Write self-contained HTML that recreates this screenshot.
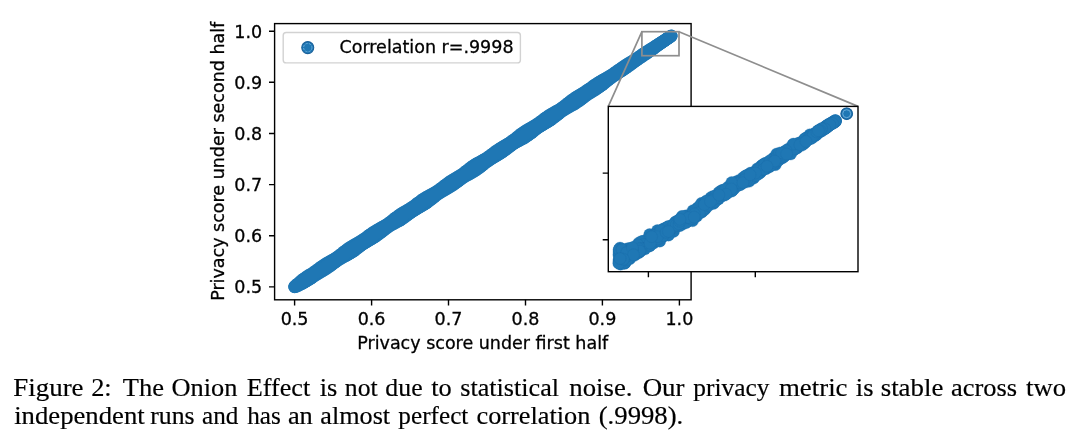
<!DOCTYPE html>
<html><head><meta charset="utf-8"><title>Figure 2</title>
<style>
html,body{margin:0;padding:0;background:#fff;}
body{width:1080px;height:438px;position:relative;overflow:hidden;}
</style></head><body>
<svg width="1080" height="438" viewBox="0 0 1080 438" style="position:absolute;left:0;top:0">
<g fill="#1f77b4"><circle cx="294.6" cy="286.9" r="6.3"/><circle cx="294.9" cy="286.2" r="6.3"/><circle cx="295.7" cy="286.2" r="6.3"/><circle cx="296.5" cy="286.3" r="6.3"/><circle cx="296.4" cy="284.9" r="6.3"/><circle cx="297.3" cy="285.1" r="6.3"/><circle cx="298.3" cy="285.5" r="6.3"/><circle cx="297.9" cy="283.7" r="6.3"/><circle cx="298.9" cy="284.1" r="6.3"/><circle cx="300.0" cy="284.6" r="6.3"/><circle cx="299.3" cy="282.4" r="6.3"/><circle cx="300.5" cy="283.0" r="6.3"/><circle cx="301.8" cy="283.7" r="6.3"/><circle cx="300.8" cy="281.1" r="6.3"/><circle cx="302.1" cy="281.9" r="6.3"/><circle cx="303.5" cy="282.9" r="6.3"/><circle cx="302.3" cy="279.9" r="6.3"/><circle cx="303.7" cy="280.9" r="6.3"/><circle cx="305.2" cy="281.9" r="6.3"/><circle cx="303.9" cy="278.7" r="6.3"/><circle cx="305.4" cy="279.8" r="6.3"/><circle cx="306.9" cy="280.9" r="6.3"/><circle cx="305.4" cy="277.6" r="6.3"/><circle cx="307.0" cy="278.8" r="6.3"/><circle cx="308.5" cy="279.9" r="6.3"/><circle cx="307.0" cy="276.5" r="6.3"/><circle cx="308.6" cy="277.7" r="6.3"/><circle cx="310.2" cy="278.9" r="6.3"/><circle cx="308.6" cy="275.4" r="6.3"/><circle cx="310.2" cy="276.6" r="6.3"/><circle cx="311.7" cy="277.8" r="6.3"/><circle cx="310.3" cy="274.5" r="6.3"/><circle cx="311.8" cy="275.6" r="6.3"/><circle cx="313.3" cy="276.6" r="6.3"/><circle cx="312.0" cy="273.5" r="6.3"/><circle cx="313.4" cy="274.5" r="6.3"/><circle cx="314.9" cy="275.5" r="6.3"/><circle cx="313.6" cy="272.4" r="6.3"/><circle cx="315.0" cy="273.4" r="6.3"/><circle cx="316.5" cy="274.5" r="6.3"/><circle cx="315.2" cy="271.3" r="6.3"/><circle cx="316.7" cy="272.4" r="6.3"/><circle cx="318.2" cy="273.5" r="6.3"/><circle cx="316.8" cy="270.2" r="6.3"/><circle cx="318.3" cy="271.3" r="6.3"/><circle cx="319.8" cy="272.5" r="6.3"/><circle cx="318.3" cy="269.0" r="6.3"/><circle cx="319.9" cy="270.3" r="6.3"/><circle cx="321.5" cy="271.5" r="6.3"/><circle cx="319.9" cy="267.9" r="6.3"/><circle cx="321.5" cy="269.2" r="6.3"/><circle cx="323.2" cy="270.6" r="6.3"/><circle cx="321.4" cy="266.7" r="6.3"/><circle cx="323.1" cy="268.1" r="6.3"/><circle cx="324.8" cy="269.6" r="6.3"/><circle cx="323.0" cy="265.6" r="6.3"/><circle cx="324.7" cy="267.1" r="6.3"/><circle cx="326.5" cy="268.5" r="6.3"/><circle cx="324.6" cy="264.6" r="6.3"/><circle cx="326.4" cy="266.0" r="6.3"/><circle cx="328.1" cy="267.4" r="6.3"/><circle cx="326.2" cy="263.5" r="6.3"/><circle cx="328.0" cy="264.9" r="6.3"/><circle cx="329.7" cy="266.3" r="6.3"/><circle cx="327.9" cy="262.5" r="6.3"/><circle cx="329.6" cy="263.9" r="6.3"/><circle cx="331.2" cy="265.2" r="6.3"/><circle cx="329.6" cy="261.6" r="6.3"/><circle cx="331.2" cy="262.8" r="6.3"/><circle cx="332.7" cy="264.0" r="6.3"/><circle cx="331.3" cy="260.6" r="6.3"/><circle cx="332.8" cy="261.8" r="6.3"/><circle cx="334.3" cy="262.8" r="6.3"/><circle cx="333.0" cy="259.7" r="6.3"/><circle cx="334.4" cy="260.7" r="6.3"/><circle cx="335.8" cy="261.7" r="6.3"/><circle cx="334.6" cy="258.7" r="6.3"/><circle cx="336.0" cy="259.6" r="6.3"/><circle cx="337.4" cy="260.6" r="6.3"/><circle cx="336.3" cy="257.6" r="6.3"/><circle cx="337.7" cy="258.6" r="6.3"/><circle cx="339.0" cy="259.5" r="6.3"/><circle cx="337.9" cy="256.6" r="6.3"/><circle cx="339.3" cy="257.5" r="6.3"/><circle cx="340.7" cy="258.5" r="6.3"/><circle cx="339.4" cy="255.4" r="6.3"/><circle cx="340.9" cy="256.4" r="6.3"/><circle cx="342.4" cy="257.5" r="6.3"/><circle cx="341.0" cy="254.3" r="6.3"/><circle cx="342.5" cy="255.4" r="6.3"/><circle cx="344.1" cy="256.6" r="6.3"/><circle cx="342.5" cy="253.1" r="6.3"/><circle cx="344.1" cy="254.3" r="6.3"/><circle cx="345.8" cy="255.7" r="6.3"/><circle cx="344.0" cy="251.8" r="6.3"/><circle cx="345.7" cy="253.2" r="6.3"/><circle cx="347.5" cy="254.7" r="6.3"/><circle cx="345.5" cy="250.6" r="6.3"/><circle cx="347.3" cy="252.2" r="6.3"/><circle cx="349.2" cy="253.8" r="6.3"/><circle cx="347.1" cy="249.5" r="6.3"/><circle cx="349.0" cy="251.1" r="6.3"/><circle cx="350.9" cy="252.8" r="6.3"/><circle cx="348.6" cy="248.3" r="6.3"/><circle cx="350.6" cy="250.1" r="6.3"/><circle cx="352.5" cy="251.8" r="6.3"/><circle cx="350.3" cy="247.3" r="6.3"/><circle cx="352.2" cy="249.0" r="6.3"/><circle cx="354.1" cy="250.7" r="6.3"/><circle cx="351.9" cy="246.2" r="6.3"/><circle cx="353.8" cy="247.9" r="6.3"/><circle cx="355.7" cy="249.6" r="6.3"/><circle cx="353.6" cy="245.3" r="6.3"/><circle cx="355.4" cy="246.9" r="6.3"/><circle cx="357.2" cy="248.4" r="6.3"/><circle cx="355.2" cy="244.3" r="6.3"/><circle cx="357.0" cy="245.8" r="6.3"/><circle cx="358.7" cy="247.2" r="6.3"/><circle cx="356.9" cy="243.4" r="6.3"/><circle cx="358.6" cy="244.7" r="6.3"/><circle cx="360.3" cy="246.0" r="6.3"/><circle cx="358.6" cy="242.4" r="6.3"/><circle cx="360.3" cy="243.7" r="6.3"/><circle cx="361.8" cy="244.9" r="6.3"/><circle cx="360.3" cy="241.4" r="6.3"/><circle cx="361.9" cy="242.6" r="6.3"/><circle cx="363.4" cy="243.8" r="6.3"/><circle cx="361.9" cy="240.4" r="6.3"/><circle cx="363.5" cy="241.5" r="6.3"/><circle cx="365.0" cy="242.7" r="6.3"/><circle cx="363.6" cy="239.3" r="6.3"/><circle cx="365.1" cy="240.5" r="6.3"/><circle cx="366.7" cy="241.7" r="6.3"/><circle cx="365.1" cy="238.2" r="6.3"/><circle cx="366.7" cy="239.4" r="6.3"/><circle cx="368.3" cy="240.7" r="6.3"/><circle cx="366.7" cy="237.1" r="6.3"/><circle cx="368.3" cy="238.4" r="6.3"/><circle cx="370.0" cy="239.7" r="6.3"/><circle cx="368.3" cy="235.9" r="6.3"/><circle cx="369.9" cy="237.3" r="6.3"/><circle cx="371.7" cy="238.7" r="6.3"/><circle cx="369.8" cy="234.8" r="6.3"/><circle cx="371.6" cy="236.2" r="6.3"/><circle cx="373.3" cy="237.7" r="6.3"/><circle cx="371.4" cy="233.6" r="6.3"/><circle cx="373.2" cy="235.2" r="6.3"/><circle cx="375.0" cy="236.7" r="6.3"/><circle cx="373.0" cy="232.5" r="6.3"/><circle cx="374.8" cy="234.1" r="6.3"/><circle cx="376.6" cy="235.6" r="6.3"/><circle cx="374.6" cy="231.5" r="6.3"/><circle cx="376.4" cy="233.0" r="6.3"/><circle cx="378.2" cy="234.5" r="6.3"/><circle cx="376.3" cy="230.5" r="6.3"/><circle cx="378.0" cy="232.0" r="6.3"/><circle cx="379.7" cy="233.4" r="6.3"/><circle cx="377.9" cy="229.5" r="6.3"/><circle cx="379.6" cy="230.9" r="6.3"/><circle cx="381.3" cy="232.2" r="6.3"/><circle cx="379.6" cy="228.6" r="6.3"/><circle cx="381.2" cy="229.8" r="6.3"/><circle cx="382.8" cy="231.0" r="6.3"/><circle cx="381.3" cy="227.6" r="6.3"/><circle cx="382.9" cy="228.8" r="6.3"/><circle cx="384.3" cy="229.8" r="6.3"/><circle cx="383.0" cy="226.7" r="6.3"/><circle cx="384.5" cy="227.7" r="6.3"/><circle cx="385.9" cy="228.6" r="6.3"/><circle cx="384.7" cy="225.7" r="6.3"/><circle cx="386.1" cy="226.6" r="6.3"/><circle cx="387.4" cy="227.5" r="6.3"/><circle cx="386.4" cy="224.7" r="6.3"/><circle cx="387.7" cy="225.6" r="6.3"/><circle cx="389.0" cy="226.4" r="6.3"/><circle cx="388.0" cy="223.6" r="6.3"/><circle cx="389.3" cy="224.5" r="6.3"/><circle cx="390.7" cy="225.4" r="6.3"/><circle cx="389.5" cy="222.5" r="6.3"/><circle cx="390.9" cy="223.4" r="6.3"/><circle cx="392.4" cy="224.4" r="6.3"/><circle cx="391.1" cy="221.4" r="6.3"/><circle cx="392.5" cy="222.4" r="6.3"/><circle cx="394.0" cy="223.5" r="6.3"/><circle cx="392.6" cy="220.2" r="6.3"/><circle cx="394.2" cy="221.3" r="6.3"/><circle cx="395.8" cy="222.5" r="6.3"/><circle cx="394.1" cy="218.9" r="6.3"/><circle cx="395.8" cy="220.2" r="6.3"/><circle cx="397.5" cy="221.6" r="6.3"/><circle cx="395.7" cy="217.7" r="6.3"/><circle cx="397.4" cy="219.2" r="6.3"/><circle cx="399.2" cy="220.7" r="6.3"/><circle cx="397.2" cy="216.6" r="6.3"/><circle cx="399.0" cy="218.1" r="6.3"/><circle cx="400.8" cy="219.7" r="6.3"/><circle cx="398.8" cy="215.4" r="6.3"/><circle cx="400.6" cy="217.0" r="6.3"/><circle cx="402.5" cy="218.6" r="6.3"/><circle cx="400.4" cy="214.4" r="6.3"/><circle cx="402.2" cy="216.0" r="6.3"/><circle cx="404.1" cy="217.6" r="6.3"/><circle cx="402.0" cy="213.3" r="6.3"/><circle cx="403.8" cy="214.9" r="6.3"/><circle cx="405.6" cy="216.4" r="6.3"/><circle cx="403.7" cy="212.3" r="6.3"/><circle cx="405.5" cy="213.8" r="6.3"/><circle cx="407.2" cy="215.3" r="6.3"/><circle cx="405.4" cy="211.3" r="6.3"/><circle cx="407.1" cy="212.8" r="6.3"/><circle cx="408.7" cy="214.1" r="6.3"/><circle cx="407.0" cy="210.4" r="6.3"/><circle cx="408.7" cy="211.7" r="6.3"/><circle cx="410.3" cy="213.0" r="6.3"/><circle cx="408.7" cy="209.4" r="6.3"/><circle cx="410.3" cy="210.6" r="6.3"/><circle cx="411.9" cy="211.8" r="6.3"/><circle cx="410.4" cy="208.4" r="6.3"/><circle cx="411.9" cy="209.6" r="6.3"/><circle cx="413.5" cy="210.7" r="6.3"/><circle cx="412.0" cy="207.3" r="6.3"/><circle cx="413.5" cy="208.5" r="6.3"/><circle cx="415.1" cy="209.7" r="6.3"/><circle cx="413.6" cy="206.2" r="6.3"/><circle cx="415.1" cy="207.4" r="6.3"/><circle cx="416.7" cy="208.7" r="6.3"/><circle cx="415.1" cy="205.1" r="6.3"/><circle cx="416.8" cy="206.4" r="6.3"/><circle cx="418.4" cy="207.7" r="6.3"/><circle cx="416.7" cy="203.9" r="6.3"/><circle cx="418.4" cy="205.3" r="6.3"/><circle cx="420.1" cy="206.7" r="6.3"/><circle cx="418.2" cy="202.7" r="6.3"/><circle cx="420.0" cy="204.2" r="6.3"/><circle cx="421.8" cy="205.8" r="6.3"/><circle cx="419.8" cy="201.6" r="6.3"/><circle cx="421.6" cy="203.1" r="6.3"/><circle cx="423.5" cy="204.8" r="6.3"/><circle cx="421.3" cy="200.4" r="6.3"/><circle cx="423.2" cy="202.1" r="6.3"/><circle cx="425.1" cy="203.8" r="6.3"/><circle cx="422.9" cy="199.3" r="6.3"/><circle cx="424.8" cy="201.0" r="6.3"/><circle cx="426.7" cy="202.7" r="6.3"/><circle cx="424.6" cy="198.3" r="6.3"/><circle cx="426.4" cy="199.9" r="6.3"/><circle cx="428.3" cy="201.6" r="6.3"/><circle cx="426.2" cy="197.3" r="6.3"/><circle cx="428.1" cy="198.9" r="6.3"/><circle cx="429.9" cy="200.4" r="6.3"/><circle cx="427.9" cy="196.3" r="6.3"/><circle cx="429.7" cy="197.8" r="6.3"/><circle cx="431.4" cy="199.2" r="6.3"/><circle cx="429.6" cy="195.4" r="6.3"/><circle cx="431.3" cy="196.7" r="6.3"/><circle cx="432.9" cy="198.0" r="6.3"/><circle cx="431.3" cy="194.5" r="6.3"/><circle cx="432.9" cy="195.7" r="6.3"/><circle cx="434.4" cy="196.8" r="6.3"/><circle cx="433.0" cy="193.5" r="6.3"/><circle cx="434.5" cy="194.6" r="6.3"/><circle cx="436.0" cy="195.6" r="6.3"/><circle cx="434.7" cy="192.6" r="6.3"/><circle cx="436.1" cy="193.5" r="6.3"/><circle cx="437.5" cy="194.4" r="6.3"/><circle cx="436.4" cy="191.6" r="6.3"/><circle cx="437.7" cy="192.4" r="6.3"/><circle cx="439.1" cy="193.3" r="6.3"/><circle cx="438.0" cy="190.5" r="6.3"/><circle cx="439.4" cy="191.4" r="6.3"/><circle cx="440.7" cy="192.3" r="6.3"/><circle cx="439.6" cy="189.4" r="6.3"/><circle cx="441.0" cy="190.3" r="6.3"/><circle cx="442.4" cy="191.3" r="6.3"/><circle cx="441.1" cy="188.2" r="6.3"/><circle cx="442.6" cy="189.2" r="6.3"/><circle cx="444.1" cy="190.3" r="6.3"/><circle cx="442.7" cy="187.1" r="6.3"/><circle cx="444.2" cy="188.2" r="6.3"/><circle cx="445.8" cy="189.4" r="6.3"/><circle cx="444.2" cy="185.9" r="6.3"/><circle cx="445.8" cy="187.1" r="6.3"/><circle cx="447.5" cy="188.4" r="6.3"/><circle cx="445.8" cy="184.7" r="6.3"/><circle cx="447.4" cy="186.0" r="6.3"/><circle cx="449.1" cy="187.4" r="6.3"/><circle cx="447.3" cy="183.5" r="6.3"/><circle cx="449.0" cy="185.0" r="6.3"/><circle cx="450.8" cy="186.4" r="6.3"/><circle cx="448.9" cy="182.4" r="6.3"/><circle cx="450.7" cy="183.9" r="6.3"/><circle cx="452.4" cy="185.4" r="6.3"/><circle cx="450.5" cy="181.3" r="6.3"/><circle cx="452.3" cy="182.8" r="6.3"/><circle cx="454.0" cy="184.3" r="6.3"/><circle cx="452.2" cy="180.3" r="6.3"/><circle cx="453.9" cy="181.7" r="6.3"/><circle cx="455.6" cy="183.1" r="6.3"/><circle cx="453.8" cy="179.3" r="6.3"/><circle cx="455.5" cy="180.7" r="6.3"/><circle cx="457.1" cy="182.0" r="6.3"/><circle cx="455.5" cy="178.3" r="6.3"/><circle cx="457.1" cy="179.6" r="6.3"/><circle cx="458.7" cy="180.8" r="6.3"/><circle cx="457.2" cy="177.3" r="6.3"/><circle cx="458.7" cy="178.5" r="6.3"/><circle cx="460.3" cy="179.6" r="6.3"/><circle cx="458.8" cy="176.3" r="6.3"/><circle cx="460.3" cy="177.4" r="6.3"/><circle cx="461.8" cy="178.5" r="6.3"/><circle cx="460.5" cy="175.3" r="6.3"/><circle cx="462.0" cy="176.4" r="6.3"/><circle cx="463.5" cy="177.4" r="6.3"/><circle cx="462.1" cy="174.2" r="6.3"/><circle cx="463.6" cy="175.3" r="6.3"/><circle cx="465.1" cy="176.4" r="6.3"/><circle cx="463.7" cy="173.1" r="6.3"/><circle cx="465.2" cy="174.2" r="6.3"/><circle cx="466.8" cy="175.4" r="6.3"/><circle cx="465.2" cy="171.9" r="6.3"/><circle cx="466.8" cy="173.1" r="6.3"/><circle cx="468.5" cy="174.5" r="6.3"/><circle cx="466.7" cy="170.7" r="6.3"/><circle cx="468.4" cy="172.1" r="6.3"/><circle cx="470.2" cy="173.5" r="6.3"/><circle cx="468.3" cy="169.5" r="6.3"/><circle cx="470.0" cy="171.0" r="6.3"/><circle cx="471.9" cy="172.6" r="6.3"/><circle cx="469.8" cy="168.3" r="6.3"/><circle cx="471.6" cy="169.9" r="6.3"/><circle cx="473.6" cy="171.6" r="6.3"/><circle cx="471.3" cy="167.1" r="6.3"/><circle cx="473.3" cy="168.9" r="6.3"/><circle cx="475.2" cy="170.6" r="6.3"/><circle cx="472.9" cy="166.0" r="6.3"/><circle cx="474.9" cy="167.8" r="6.3"/><circle cx="476.8" cy="169.5" r="6.3"/><circle cx="474.5" cy="164.9" r="6.3"/><circle cx="476.5" cy="166.7" r="6.3"/><circle cx="478.4" cy="168.4" r="6.3"/><circle cx="476.2" cy="163.9" r="6.3"/><circle cx="478.1" cy="165.6" r="6.3"/><circle cx="480.0" cy="167.3" r="6.3"/><circle cx="477.9" cy="163.0" r="6.3"/><circle cx="479.7" cy="164.6" r="6.3"/><circle cx="481.5" cy="166.1" r="6.3"/><circle cx="479.6" cy="162.0" r="6.3"/><circle cx="481.3" cy="163.5" r="6.3"/><circle cx="483.0" cy="164.8" r="6.3"/><circle cx="481.3" cy="161.1" r="6.3"/><circle cx="482.9" cy="162.4" r="6.3"/><circle cx="484.5" cy="163.6" r="6.3"/><circle cx="483.0" cy="160.1" r="6.3"/><circle cx="484.6" cy="161.3" r="6.3"/><circle cx="486.1" cy="162.4" r="6.3"/><circle cx="484.7" cy="159.2" r="6.3"/><circle cx="486.2" cy="160.2" r="6.3"/><circle cx="487.6" cy="161.3" r="6.3"/><circle cx="486.3" cy="158.2" r="6.3"/><circle cx="487.8" cy="159.2" r="6.3"/><circle cx="489.2" cy="160.2" r="6.3"/><circle cx="488.0" cy="157.1" r="6.3"/><circle cx="489.4" cy="158.1" r="6.3"/><circle cx="490.9" cy="159.1" r="6.3"/><circle cx="489.6" cy="156.0" r="6.3"/><circle cx="491.0" cy="157.0" r="6.3"/><circle cx="492.5" cy="158.1" r="6.3"/><circle cx="491.1" cy="154.9" r="6.3"/><circle cx="492.6" cy="155.9" r="6.3"/><circle cx="494.2" cy="157.1" r="6.3"/><circle cx="492.7" cy="153.7" r="6.3"/><circle cx="494.3" cy="154.9" r="6.3"/><circle cx="495.9" cy="156.1" r="6.3"/><circle cx="494.2" cy="152.5" r="6.3"/><circle cx="495.9" cy="153.8" r="6.3"/><circle cx="497.5" cy="155.1" r="6.3"/><circle cx="495.8" cy="151.3" r="6.3"/><circle cx="497.5" cy="152.7" r="6.3"/><circle cx="499.2" cy="154.1" r="6.3"/><circle cx="497.4" cy="150.2" r="6.3"/><circle cx="499.1" cy="151.6" r="6.3"/><circle cx="500.8" cy="153.1" r="6.3"/><circle cx="499.0" cy="149.1" r="6.3"/><circle cx="500.7" cy="150.6" r="6.3"/><circle cx="502.4" cy="152.0" r="6.3"/><circle cx="500.6" cy="148.1" r="6.3"/><circle cx="502.3" cy="149.5" r="6.3"/><circle cx="504.0" cy="150.8" r="6.3"/><circle cx="502.3" cy="147.1" r="6.3"/><circle cx="503.9" cy="148.4" r="6.3"/><circle cx="505.6" cy="149.7" r="6.3"/><circle cx="503.9" cy="146.1" r="6.3"/><circle cx="505.6" cy="147.3" r="6.3"/><circle cx="507.1" cy="148.5" r="6.3"/><circle cx="505.6" cy="145.1" r="6.3"/><circle cx="507.2" cy="146.2" r="6.3"/><circle cx="508.7" cy="147.3" r="6.3"/><circle cx="507.3" cy="144.1" r="6.3"/><circle cx="508.8" cy="145.2" r="6.3"/><circle cx="510.2" cy="146.2" r="6.3"/><circle cx="509.0" cy="143.1" r="6.3"/><circle cx="510.4" cy="144.1" r="6.3"/><circle cx="511.8" cy="145.0" r="6.3"/><circle cx="510.6" cy="142.1" r="6.3"/><circle cx="512.0" cy="143.0" r="6.3"/><circle cx="513.4" cy="143.9" r="6.3"/><circle cx="512.2" cy="141.0" r="6.3"/><circle cx="513.6" cy="141.9" r="6.3"/><circle cx="515.1" cy="142.9" r="6.3"/><circle cx="513.8" cy="139.8" r="6.3"/><circle cx="515.2" cy="140.8" r="6.3"/><circle cx="516.7" cy="141.9" r="6.3"/><circle cx="515.3" cy="138.6" r="6.3"/><circle cx="516.9" cy="139.8" r="6.3"/><circle cx="518.4" cy="141.0" r="6.3"/><circle cx="516.8" cy="137.4" r="6.3"/><circle cx="518.5" cy="138.7" r="6.3"/><circle cx="520.2" cy="140.1" r="6.3"/><circle cx="518.4" cy="136.2" r="6.3"/><circle cx="520.1" cy="137.6" r="6.3"/><circle cx="521.9" cy="139.1" r="6.3"/><circle cx="519.9" cy="135.0" r="6.3"/><circle cx="521.7" cy="136.5" r="6.3"/><circle cx="523.6" cy="138.2" r="6.3"/><circle cx="521.4" cy="133.8" r="6.3"/><circle cx="523.3" cy="135.5" r="6.3"/><circle cx="525.2" cy="137.2" r="6.3"/><circle cx="523.0" cy="132.6" r="6.3"/><circle cx="524.9" cy="134.4" r="6.3"/><circle cx="526.9" cy="136.1" r="6.3"/><circle cx="524.6" cy="131.6" r="6.3"/><circle cx="526.5" cy="133.3" r="6.3"/><circle cx="528.5" cy="135.0" r="6.3"/><circle cx="526.2" cy="130.5" r="6.3"/><circle cx="528.2" cy="132.2" r="6.3"/><circle cx="530.0" cy="133.9" r="6.3"/><circle cx="527.9" cy="129.5" r="6.3"/><circle cx="529.8" cy="131.1" r="6.3"/><circle cx="531.6" cy="132.7" r="6.3"/><circle cx="529.6" cy="128.5" r="6.3"/><circle cx="531.4" cy="130.0" r="6.3"/><circle cx="533.1" cy="131.5" r="6.3"/><circle cx="531.3" cy="127.6" r="6.3"/><circle cx="533.0" cy="129.0" r="6.3"/><circle cx="534.6" cy="130.3" r="6.3"/><circle cx="533.0" cy="126.6" r="6.3"/><circle cx="534.6" cy="127.9" r="6.3"/><circle cx="536.2" cy="129.1" r="6.3"/><circle cx="534.7" cy="125.6" r="6.3"/><circle cx="536.2" cy="126.8" r="6.3"/><circle cx="537.8" cy="127.9" r="6.3"/><circle cx="536.3" cy="124.6" r="6.3"/><circle cx="537.8" cy="125.7" r="6.3"/><circle cx="539.4" cy="126.8" r="6.3"/><circle cx="537.9" cy="123.5" r="6.3"/><circle cx="539.5" cy="124.6" r="6.3"/><circle cx="541.0" cy="125.8" r="6.3"/><circle cx="539.5" cy="122.4" r="6.3"/><circle cx="541.1" cy="123.6" r="6.3"/><circle cx="542.7" cy="124.8" r="6.3"/><circle cx="541.1" cy="121.2" r="6.3"/><circle cx="542.7" cy="122.5" r="6.3"/><circle cx="544.3" cy="123.8" r="6.3"/><circle cx="542.6" cy="120.1" r="6.3"/><circle cx="544.3" cy="121.4" r="6.3"/><circle cx="546.0" cy="122.8" r="6.3"/><circle cx="544.2" cy="118.9" r="6.3"/><circle cx="545.9" cy="120.3" r="6.3"/><circle cx="547.7" cy="121.8" r="6.3"/><circle cx="545.8" cy="117.7" r="6.3"/><circle cx="547.5" cy="119.2" r="6.3"/><circle cx="549.3" cy="120.7" r="6.3"/><circle cx="547.3" cy="116.6" r="6.3"/><circle cx="549.1" cy="118.1" r="6.3"/><circle cx="550.9" cy="119.7" r="6.3"/><circle cx="549.0" cy="115.5" r="6.3"/><circle cx="550.8" cy="117.1" r="6.3"/><circle cx="552.5" cy="118.5" r="6.3"/><circle cx="550.6" cy="114.5" r="6.3"/><circle cx="552.4" cy="116.0" r="6.3"/><circle cx="554.1" cy="117.4" r="6.3"/><circle cx="552.3" cy="113.5" r="6.3"/><circle cx="554.0" cy="114.9" r="6.3"/><circle cx="555.6" cy="116.2" r="6.3"/><circle cx="554.0" cy="112.6" r="6.3"/><circle cx="555.6" cy="113.8" r="6.3"/><circle cx="557.1" cy="115.0" r="6.3"/><circle cx="555.7" cy="111.6" r="6.3"/><circle cx="557.2" cy="112.7" r="6.3"/><circle cx="558.7" cy="113.8" r="6.3"/><circle cx="557.4" cy="110.7" r="6.3"/><circle cx="558.8" cy="111.6" r="6.3"/><circle cx="560.2" cy="112.6" r="6.3"/><circle cx="559.1" cy="109.7" r="6.3"/><circle cx="560.4" cy="110.6" r="6.3"/><circle cx="561.8" cy="111.4" r="6.3"/><circle cx="560.7" cy="108.6" r="6.3"/><circle cx="562.1" cy="109.5" r="6.3"/><circle cx="563.4" cy="110.3" r="6.3"/><circle cx="562.3" cy="107.5" r="6.3"/><circle cx="563.7" cy="108.4" r="6.3"/><circle cx="565.0" cy="109.3" r="6.3"/><circle cx="563.9" cy="106.4" r="6.3"/><circle cx="565.3" cy="107.3" r="6.3"/><circle cx="566.7" cy="108.3" r="6.3"/><circle cx="565.4" cy="105.2" r="6.3"/><circle cx="566.9" cy="106.2" r="6.3"/><circle cx="568.4" cy="107.3" r="6.3"/><circle cx="567.0" cy="104.0" r="6.3"/><circle cx="568.5" cy="105.1" r="6.3"/><circle cx="570.1" cy="106.4" r="6.3"/><circle cx="568.5" cy="102.8" r="6.3"/><circle cx="570.1" cy="104.1" r="6.3"/><circle cx="571.8" cy="105.4" r="6.3"/><circle cx="570.0" cy="101.5" r="6.3"/><circle cx="571.7" cy="103.0" r="6.3"/><circle cx="573.5" cy="104.5" r="6.3"/><circle cx="571.6" cy="100.3" r="6.3"/><circle cx="573.4" cy="101.9" r="6.3"/><circle cx="575.2" cy="103.5" r="6.3"/><circle cx="573.1" cy="99.2" r="6.3"/><circle cx="575.0" cy="100.8" r="6.3"/><circle cx="576.8" cy="102.4" r="6.3"/><circle cx="574.7" cy="98.1" r="6.3"/><circle cx="576.6" cy="99.7" r="6.3"/><circle cx="578.4" cy="101.3" r="6.3"/><circle cx="576.4" cy="97.0" r="6.3"/><circle cx="578.2" cy="98.6" r="6.3"/><circle cx="580.0" cy="100.2" r="6.3"/><circle cx="578.0" cy="96.0" r="6.3"/><circle cx="579.8" cy="97.5" r="6.3"/><circle cx="581.6" cy="99.0" r="6.3"/><circle cx="579.7" cy="95.0" r="6.3"/><circle cx="581.4" cy="96.5" r="6.3"/><circle cx="583.1" cy="97.8" r="6.3"/><circle cx="581.4" cy="94.0" r="6.3"/><circle cx="583.0" cy="95.4" r="6.3"/><circle cx="584.7" cy="96.6" r="6.3"/><circle cx="583.1" cy="93.0" r="6.3"/><circle cx="584.7" cy="94.3" r="6.3"/><circle cx="586.2" cy="95.5" r="6.3"/><circle cx="584.7" cy="92.0" r="6.3"/><circle cx="586.3" cy="93.2" r="6.3"/><circle cx="587.8" cy="94.4" r="6.3"/><circle cx="586.3" cy="91.0" r="6.3"/><circle cx="587.9" cy="92.1" r="6.3"/><circle cx="589.5" cy="93.3" r="6.3"/><circle cx="587.9" cy="89.8" r="6.3"/><circle cx="589.5" cy="91.0" r="6.3"/><circle cx="591.1" cy="92.2" r="6.3"/><circle cx="589.5" cy="88.7" r="6.3"/><circle cx="591.1" cy="89.9" r="6.3"/><circle cx="592.7" cy="91.2" r="6.3"/><circle cx="591.1" cy="87.6" r="6.3"/><circle cx="592.7" cy="88.9" r="6.3"/><circle cx="594.4" cy="90.2" r="6.3"/><circle cx="592.7" cy="86.4" r="6.3"/><circle cx="594.3" cy="87.8" r="6.3"/><circle cx="596.0" cy="89.2" r="6.3"/><circle cx="594.3" cy="85.3" r="6.3"/><circle cx="596.0" cy="86.7" r="6.3"/><circle cx="597.7" cy="88.1" r="6.3"/><circle cx="595.8" cy="84.2" r="6.3"/><circle cx="597.6" cy="85.6" r="6.3"/><circle cx="599.3" cy="87.0" r="6.3"/><circle cx="597.5" cy="83.1" r="6.3"/><circle cx="599.2" cy="84.5" r="6.3"/><circle cx="600.9" cy="85.9" r="6.3"/><circle cx="599.1" cy="82.1" r="6.3"/><circle cx="600.8" cy="83.4" r="6.3"/><circle cx="602.4" cy="84.7" r="6.3"/><circle cx="600.8" cy="81.1" r="6.3"/><circle cx="602.4" cy="82.3" r="6.3"/><circle cx="604.0" cy="83.5" r="6.3"/><circle cx="602.5" cy="80.1" r="6.3"/><circle cx="604.0" cy="81.3" r="6.3"/><circle cx="605.5" cy="82.3" r="6.3"/><circle cx="604.2" cy="79.2" r="6.3"/><circle cx="605.6" cy="80.2" r="6.3"/><circle cx="607.0" cy="81.1" r="6.3"/><circle cx="605.9" cy="78.2" r="6.3"/><circle cx="607.3" cy="79.1" r="6.3"/><circle cx="608.5" cy="79.8" r="6.3"/><circle cx="607.6" cy="77.3" r="6.3"/><circle cx="608.9" cy="78.0" r="6.3"/><circle cx="610.1" cy="78.6" r="6.3"/><circle cx="609.3" cy="76.3" r="6.3"/><circle cx="610.5" cy="76.9" r="6.3"/><circle cx="611.6" cy="77.5" r="6.3"/><circle cx="611.0" cy="75.3" r="6.3"/><circle cx="612.1" cy="75.8" r="6.3"/><circle cx="613.2" cy="76.3" r="6.3"/><circle cx="612.6" cy="74.2" r="6.3"/><circle cx="613.7" cy="74.7" r="6.3"/><circle cx="614.8" cy="75.2" r="6.3"/><circle cx="614.2" cy="73.1" r="6.3"/><circle cx="615.3" cy="73.6" r="6.3"/><circle cx="616.5" cy="74.2" r="6.3"/><circle cx="615.8" cy="72.0" r="6.3"/><circle cx="616.9" cy="72.6" r="6.3"/><circle cx="618.1" cy="73.1" r="6.3"/><circle cx="617.4" cy="70.9" r="6.3"/><circle cx="618.6" cy="71.5" r="6.3"/><circle cx="619.7" cy="72.1" r="6.3"/><circle cx="619.0" cy="69.8" r="6.3"/><circle cx="620.2" cy="70.4" r="6.3"/><circle cx="621.4" cy="71.0" r="6.3"/><circle cx="620.6" cy="68.6" r="6.3"/><circle cx="621.8" cy="69.3" r="6.3"/><circle cx="623.0" cy="70.0" r="6.3"/><circle cx="622.2" cy="67.5" r="6.3"/><circle cx="623.4" cy="68.2" r="6.3"/><circle cx="624.6" cy="68.9" r="6.3"/><circle cx="623.8" cy="66.4" r="6.3"/><circle cx="625.0" cy="67.1" r="6.3"/><circle cx="626.2" cy="67.8" r="6.3"/><circle cx="625.4" cy="65.4" r="6.3"/><circle cx="626.6" cy="66.0" r="6.3"/><circle cx="627.8" cy="66.6" r="6.3"/><circle cx="627.1" cy="64.3" r="6.3"/><circle cx="628.2" cy="64.9" r="6.3"/><circle cx="629.4" cy="65.5" r="6.3"/><circle cx="628.7" cy="63.3" r="6.3"/><circle cx="629.9" cy="63.8" r="6.3"/><circle cx="631.0" cy="64.3" r="6.3"/><circle cx="630.4" cy="62.3" r="6.3"/><circle cx="631.5" cy="62.8" r="6.3"/><circle cx="632.5" cy="63.2" r="6.3"/><circle cx="632.1" cy="61.3" r="6.3"/><circle cx="633.1" cy="61.7" r="6.3"/><circle cx="634.1" cy="62.0" r="6.3"/><circle cx="633.7" cy="60.3" r="6.3"/><circle cx="634.7" cy="60.6" r="6.3"/><circle cx="635.7" cy="60.9" r="6.3"/><circle cx="635.4" cy="59.2" r="6.3"/><circle cx="636.3" cy="59.5" r="6.3"/><circle cx="637.3" cy="59.7" r="6.3"/><circle cx="637.0" cy="58.2" r="6.3"/><circle cx="637.9" cy="58.4" r="6.3"/><circle cx="638.9" cy="58.6" r="6.3"/><circle cx="638.6" cy="57.1" r="6.3"/><circle cx="639.5" cy="57.3" r="6.3"/><circle cx="640.5" cy="57.5" r="6.3"/><circle cx="640.2" cy="56.0" r="6.3"/><circle cx="641.2" cy="56.2" r="6.3"/><circle cx="642.1" cy="56.5" r="6.3"/><circle cx="641.8" cy="54.9" r="6.3"/><circle cx="642.8" cy="55.1" r="6.3"/><circle cx="643.7" cy="55.4" r="6.3"/><circle cx="643.4" cy="53.8" r="6.3"/><circle cx="644.4" cy="54.1" r="6.3"/><circle cx="645.3" cy="54.3" r="6.3"/><circle cx="645.1" cy="52.7" r="6.3"/><circle cx="646.0" cy="53.0" r="6.3"/><circle cx="647.0" cy="53.2" r="6.3"/><circle cx="646.7" cy="51.6" r="6.3"/><circle cx="647.6" cy="51.9" r="6.3"/><circle cx="648.6" cy="52.1" r="6.3"/><circle cx="648.3" cy="50.6" r="6.3"/><circle cx="649.2" cy="50.8" r="6.3"/><circle cx="650.1" cy="51.0" r="6.3"/><circle cx="650.0" cy="49.5" r="6.3"/><circle cx="650.9" cy="49.7" r="6.3"/><circle cx="651.7" cy="49.8" r="6.3"/><circle cx="651.6" cy="48.5" r="6.3"/><circle cx="652.5" cy="48.6" r="6.3"/><circle cx="653.3" cy="48.7" r="6.3"/><circle cx="653.3" cy="47.5" r="6.3"/><circle cx="654.1" cy="47.5" r="6.3"/><circle cx="654.9" cy="47.5" r="6.3"/><circle cx="654.9" cy="46.4" r="6.3"/><circle cx="655.7" cy="46.4" r="6.3"/><circle cx="656.4" cy="46.4" r="6.3"/><circle cx="656.6" cy="45.4" r="6.3"/><circle cx="657.3" cy="45.3" r="6.3"/><circle cx="658.0" cy="45.2" r="6.3"/><circle cx="658.2" cy="44.4" r="6.3"/><circle cx="658.9" cy="44.3" r="6.3"/><circle cx="659.6" cy="44.1" r="6.3"/><circle cx="659.9" cy="43.3" r="6.3"/><circle cx="660.5" cy="43.2" r="6.3"/><circle cx="661.2" cy="43.0" r="6.3"/><circle cx="661.5" cy="42.3" r="6.3"/><circle cx="662.2" cy="42.1" r="6.3"/><circle cx="662.8" cy="41.8" r="6.3"/><circle cx="663.1" cy="41.2" r="6.3"/><circle cx="663.8" cy="41.0" r="6.3"/><circle cx="664.4" cy="40.7" r="6.3"/><circle cx="664.8" cy="40.2" r="6.3"/><circle cx="665.4" cy="39.9" r="6.3"/><circle cx="666.0" cy="39.6" r="6.3"/><circle cx="666.4" cy="39.1" r="6.3"/><circle cx="667.0" cy="38.8" r="6.3"/><circle cx="667.6" cy="38.5" r="6.3"/><circle cx="668.0" cy="38.0" r="6.3"/><circle cx="668.6" cy="37.7" r="6.3"/><circle cx="669.2" cy="37.4" r="6.3"/><circle cx="669.7" cy="37.0" r="6.3"/><circle cx="670.2" cy="36.6" r="6.3"/><circle cx="670.8" cy="36.3" r="6.3"/><circle cx="671.3" cy="35.9" r="6.3"/></g>
<path d="M294.6 286.9 Q482.95 163.39999999999998 671.3 35.9" fill="none" stroke="#1f77b4" stroke-width="12.4" stroke-linecap="round"/>
<rect x="274.6" y="23.6" width="416.5" height="276.2" fill="none" stroke="#000" stroke-width="1.4"/>
<path d="M294.6 299.8 v5.6 M274.6 286.9 h-5.6 M371.6 299.8 v5.6 M274.6 235.8 h-5.6 M448.5 299.8 v5.6 M274.6 184.6 h-5.6 M525.5 299.8 v5.6 M274.6 133.5 h-5.6 M602.4 299.8 v5.6 M274.6 82.3 h-5.6 M679.4 299.8 v5.6 M274.6 31.2 h-5.6" stroke="#000" stroke-width="1.4" fill="none"/>
<g fill="none" stroke="#8e8e8e" stroke-width="1.7">
<rect x="641.9" y="31.7" width="37.1" height="24.0"/>
<path d="M641.9 31.7 L608.3 106.4 M679 31.7 L858 106.4"/>
</g>
<rect x="608.3" y="106.4" width="249.70000000000005" height="165.29999999999998" fill="#fff" stroke="none"/>
<clipPath id="ic"><rect x="608.3" y="106.4" width="249.70000000000005" height="165.29999999999998"/></clipPath>
<g clip-path="url(#ic)">
<polyline points="620.5,260.5 632.4,251.5 659.7,235.1 696.2,213.0 708.2,202.5 744.7,179.7 781.2,156.0 806.5,139.7 835.5,120.8" fill="none" stroke="#1f77b4" stroke-width="13" stroke-linecap="round" stroke-linejoin="round"/>
<g fill="#1f77b4" stroke="#1c6eaa" stroke-width="0.3"><circle cx="662.3" cy="237.1" r="5.95"/><circle cx="815.3" cy="134.1" r="5.95"/><circle cx="755.3" cy="174.6" r="5.95"/><circle cx="763.4" cy="168.1" r="5.95"/><circle cx="745.2" cy="176.3" r="5.95"/><circle cx="775.3" cy="158.4" r="5.95"/><circle cx="701.5" cy="203.3" r="5.95"/><circle cx="701.3" cy="207.0" r="5.95"/><circle cx="736.4" cy="181.6" r="5.95"/><circle cx="659.8" cy="235.2" r="5.95"/><circle cx="822.3" cy="128.5" r="5.95"/><circle cx="774.3" cy="157.8" r="5.95"/><circle cx="680.2" cy="224.7" r="5.95"/><circle cx="805.3" cy="142.3" r="5.95"/><circle cx="622.3" cy="251.3" r="5.95"/><circle cx="771.1" cy="162.7" r="5.95"/><circle cx="636.8" cy="250.1" r="5.95"/><circle cx="627.9" cy="248.7" r="5.95"/><circle cx="638.9" cy="247.1" r="5.95"/><circle cx="626.0" cy="260.2" r="5.95"/><circle cx="721.8" cy="190.5" r="5.95"/><circle cx="699.0" cy="207.4" r="5.95"/><circle cx="728.8" cy="190.5" r="5.95"/><circle cx="651.8" cy="241.3" r="5.95"/><circle cx="816.5" cy="133.2" r="5.95"/><circle cx="620.0" cy="248.0" r="5.95"/><circle cx="732.9" cy="185.2" r="5.95"/><circle cx="733.2" cy="183.9" r="5.95"/><circle cx="620.1" cy="258.9" r="5.95"/><circle cx="781.7" cy="158.3" r="5.95"/><circle cx="770.6" cy="164.7" r="5.95"/><circle cx="649.6" cy="245.0" r="5.95"/><circle cx="716.1" cy="200.5" r="5.95"/><circle cx="792.8" cy="144.6" r="5.95"/><circle cx="620.5" cy="252.6" r="5.95"/><circle cx="714.1" cy="199.1" r="5.95"/><circle cx="727.3" cy="189.0" r="5.95"/><circle cx="718.4" cy="195.1" r="5.95"/><circle cx="662.8" cy="229.9" r="5.95"/><circle cx="788.4" cy="149.6" r="5.95"/><circle cx="638.7" cy="251.2" r="5.95"/><circle cx="820.2" cy="131.7" r="5.95"/><circle cx="733.6" cy="187.1" r="5.95"/><circle cx="725.2" cy="191.2" r="5.95"/><circle cx="774.4" cy="158.9" r="5.95"/><circle cx="686.8" cy="220.8" r="5.95"/><circle cx="671.9" cy="225.4" r="5.95"/><circle cx="672.0" cy="227.2" r="5.95"/><circle cx="746.6" cy="176.7" r="5.95"/><circle cx="663.3" cy="229.0" r="5.95"/><circle cx="626.9" cy="258.0" r="5.95"/><circle cx="662.9" cy="234.5" r="5.95"/><circle cx="793.9" cy="147.3" r="5.95"/><circle cx="828.4" cy="124.4" r="5.95"/><circle cx="686.8" cy="221.7" r="5.95"/><circle cx="668.8" cy="230.3" r="5.95"/><circle cx="685.7" cy="220.9" r="5.95"/><circle cx="788.7" cy="153.7" r="5.95"/><circle cx="698.5" cy="212.6" r="5.95"/><circle cx="631.0" cy="255.7" r="5.95"/><circle cx="694.9" cy="217.2" r="5.95"/><circle cx="763.0" cy="164.8" r="5.95"/><circle cx="765.5" cy="166.9" r="5.95"/><circle cx="801.7" cy="143.0" r="5.95"/><circle cx="825.0" cy="127.2" r="5.95"/><circle cx="660.5" cy="232.6" r="5.95"/><circle cx="652.5" cy="243.3" r="5.95"/><circle cx="761.6" cy="169.9" r="5.95"/><circle cx="684.4" cy="221.5" r="5.95"/><circle cx="631.7" cy="253.0" r="5.95"/><circle cx="650.0" cy="242.2" r="5.95"/><circle cx="765.6" cy="163.3" r="5.95"/><circle cx="645.8" cy="244.5" r="5.95"/><circle cx="619.6" cy="253.3" r="5.95"/><circle cx="742.2" cy="183.3" r="5.95"/><circle cx="682.2" cy="224.3" r="5.95"/><circle cx="624.6" cy="256.2" r="5.95"/><circle cx="626.9" cy="255.1" r="5.95"/><circle cx="724.4" cy="195.3" r="5.95"/><circle cx="721.5" cy="194.4" r="5.95"/><circle cx="624.8" cy="263.2" r="5.95"/><circle cx="737.8" cy="182.9" r="5.95"/><circle cx="730.9" cy="186.6" r="5.95"/><circle cx="697.0" cy="216.1" r="5.95"/><circle cx="649.6" cy="246.0" r="5.95"/><circle cx="793.5" cy="150.2" r="5.95"/><circle cx="691.9" cy="218.8" r="5.95"/><circle cx="739.1" cy="180.4" r="5.95"/><circle cx="649.6" cy="234.5" r="5.95"/><circle cx="686.1" cy="217.1" r="5.95"/><circle cx="777.5" cy="156.4" r="5.95"/><circle cx="697.1" cy="214.4" r="5.95"/><circle cx="675.8" cy="222.4" r="5.95"/><circle cx="816.7" cy="134.5" r="5.95"/><circle cx="804.0" cy="141.2" r="5.95"/><circle cx="785.0" cy="155.2" r="5.95"/><circle cx="623.8" cy="257.0" r="5.95"/><circle cx="811.3" cy="136.1" r="5.95"/><circle cx="812.5" cy="136.1" r="5.95"/><circle cx="678.4" cy="225.6" r="5.95"/><circle cx="761.5" cy="170.7" r="5.95"/><circle cx="716.9" cy="199.0" r="5.95"/><circle cx="791.2" cy="151.3" r="5.95"/><circle cx="654.2" cy="235.3" r="5.95"/><circle cx="749.2" cy="177.0" r="5.95"/><circle cx="755.3" cy="171.9" r="5.95"/><circle cx="707.8" cy="201.1" r="5.95"/><circle cx="697.8" cy="207.6" r="5.95"/><circle cx="832.5" cy="122.5" r="5.95"/><circle cx="788.0" cy="150.8" r="5.95"/><circle cx="804.4" cy="142.7" r="5.95"/><circle cx="791.4" cy="147.9" r="5.95"/><circle cx="731.3" cy="189.8" r="5.95"/><circle cx="817.7" cy="132.4" r="5.95"/><circle cx="627.3" cy="250.6" r="5.95"/><circle cx="621.8" cy="255.8" r="5.95"/><circle cx="628.7" cy="251.1" r="5.95"/><circle cx="796.3" cy="145.5" r="5.95"/><circle cx="756.2" cy="172.4" r="5.95"/><circle cx="696.0" cy="209.9" r="5.95"/><circle cx="619.3" cy="249.9" r="5.95"/><circle cx="831.3" cy="123.4" r="5.95"/><circle cx="681.3" cy="219.4" r="5.95"/><circle cx="674.2" cy="226.2" r="5.95"/><circle cx="647.5" cy="246.3" r="5.95"/><circle cx="625.5" cy="261.5" r="5.95"/><circle cx="828.2" cy="124.9" r="5.95"/><circle cx="676.3" cy="221.5" r="5.95"/><circle cx="618.9" cy="262.5" r="5.95"/><circle cx="696.4" cy="211.5" r="5.95"/><circle cx="833.0" cy="122.4" r="5.95"/><circle cx="798.3" cy="143.2" r="5.95"/><circle cx="720.2" cy="191.6" r="5.95"/><circle cx="631.0" cy="248.2" r="5.95"/><circle cx="627.0" cy="257.1" r="5.95"/><circle cx="665.4" cy="228.6" r="5.95"/><circle cx="629.0" cy="254.6" r="5.95"/><circle cx="704.6" cy="203.1" r="5.95"/><circle cx="620.0" cy="256.8" r="5.95"/><circle cx="770.8" cy="163.2" r="5.95"/><circle cx="786.5" cy="153.0" r="5.95"/><circle cx="654.0" cy="242.9" r="5.95"/><circle cx="714.4" cy="196.9" r="5.95"/><circle cx="629.9" cy="253.1" r="5.95"/><circle cx="827.9" cy="125.4" r="5.95"/><circle cx="775.4" cy="164.8" r="5.95"/><circle cx="812.9" cy="135.8" r="5.95"/><circle cx="740.5" cy="184.3" r="5.95"/><circle cx="692.3" cy="215.1" r="5.95"/><circle cx="784.3" cy="152.3" r="5.95"/><circle cx="667.7" cy="229.5" r="5.95"/><circle cx="701.6" cy="212.3" r="5.95"/><circle cx="643.2" cy="241.3" r="5.95"/><circle cx="634.6" cy="248.6" r="5.95"/><circle cx="722.8" cy="194.7" r="5.95"/><circle cx="628.3" cy="248.8" r="5.95"/><circle cx="791.6" cy="150.0" r="5.95"/><circle cx="728.3" cy="192.3" r="5.95"/><circle cx="805.7" cy="138.3" r="5.95"/><circle cx="627.0" cy="253.4" r="5.95"/><circle cx="797.9" cy="147.0" r="5.95"/><circle cx="753.0" cy="175.6" r="5.95"/><circle cx="624.2" cy="263.4" r="5.95"/><circle cx="682.2" cy="221.6" r="5.95"/><circle cx="712.9" cy="196.5" r="5.95"/><circle cx="659.8" cy="241.2" r="5.95"/><circle cx="835.3" cy="121.4" r="5.95"/><circle cx="619.0" cy="251.4" r="5.95"/><circle cx="655.5" cy="239.1" r="5.95"/><circle cx="829.9" cy="124.0" r="5.95"/><circle cx="806.2" cy="140.0" r="5.95"/><circle cx="628.0" cy="258.8" r="5.95"/><circle cx="774.8" cy="163.0" r="5.95"/><circle cx="718.6" cy="192.7" r="5.95"/><circle cx="639.0" cy="252.6" r="5.95"/><circle cx="747.4" cy="175.1" r="5.95"/><circle cx="692.6" cy="220.8" r="5.95"/><circle cx="831.9" cy="123.5" r="5.95"/><circle cx="748.6" cy="175.3" r="5.95"/><circle cx="687.7" cy="221.3" r="5.95"/><circle cx="751.5" cy="177.9" r="5.95"/><circle cx="744.2" cy="177.6" r="5.95"/><circle cx="672.8" cy="231.1" r="5.95"/><circle cx="737.2" cy="184.6" r="5.95"/><circle cx="721.5" cy="196.2" r="5.95"/><circle cx="741.0" cy="182.4" r="5.95"/><circle cx="728.2" cy="186.9" r="5.95"/><circle cx="656.9" cy="234.1" r="5.95"/><circle cx="648.3" cy="238.7" r="5.95"/><circle cx="761.0" cy="166.2" r="5.95"/><circle cx="814.4" cy="136.4" r="5.95"/><circle cx="673.6" cy="231.5" r="5.95"/><circle cx="620.6" cy="264.2" r="5.95"/><circle cx="692.9" cy="216.8" r="5.95"/><circle cx="816.7" cy="132.6" r="5.95"/><circle cx="775.5" cy="157.8" r="5.95"/><circle cx="732.8" cy="188.6" r="5.95"/><circle cx="808.0" cy="137.3" r="5.95"/><circle cx="692.9" cy="210.6" r="5.95"/><circle cx="648.1" cy="241.0" r="5.95"/><circle cx="642.6" cy="241.4" r="5.95"/><circle cx="736.9" cy="186.0" r="5.95"/><circle cx="710.6" cy="201.0" r="5.95"/><circle cx="714.4" cy="200.5" r="5.95"/><circle cx="818.1" cy="132.1" r="5.95"/><circle cx="633.3" cy="250.1" r="5.95"/><circle cx="689.9" cy="218.5" r="5.95"/><circle cx="775.2" cy="162.7" r="5.95"/><circle cx="808.4" cy="138.9" r="5.95"/><circle cx="762.2" cy="165.4" r="5.95"/><circle cx="788.6" cy="152.7" r="5.95"/><circle cx="764.5" cy="164.4" r="5.95"/><circle cx="753.5" cy="178.2" r="5.95"/><circle cx="705.9" cy="208.0" r="5.95"/><circle cx="816.3" cy="134.7" r="5.95"/><circle cx="707.8" cy="202.0" r="5.95"/><circle cx="686.3" cy="215.6" r="5.95"/><circle cx="692.3" cy="218.6" r="5.95"/><circle cx="827.1" cy="126.1" r="5.95"/><circle cx="634.2" cy="247.0" r="5.95"/><circle cx="618.8" cy="254.7" r="5.95"/><circle cx="817.9" cy="130.8" r="5.95"/><circle cx="696.0" cy="211.8" r="5.95"/><circle cx="760.7" cy="171.3" r="5.95"/><circle cx="828.1" cy="126.6" r="5.95"/><circle cx="768.6" cy="165.3" r="5.95"/><circle cx="638.6" cy="243.1" r="5.95"/><circle cx="686.2" cy="216.4" r="5.95"/><circle cx="826.4" cy="127.7" r="5.95"/><circle cx="753.6" cy="175.6" r="5.95"/><circle cx="758.9" cy="172.1" r="5.95"/><circle cx="760.4" cy="172.5" r="5.95"/><circle cx="626.3" cy="258.6" r="5.95"/><circle cx="622.8" cy="252.1" r="5.95"/><circle cx="798.3" cy="146.0" r="5.95"/><circle cx="778.0" cy="160.8" r="5.95"/><circle cx="762.3" cy="170.0" r="5.95"/><circle cx="807.2" cy="138.0" r="5.95"/><circle cx="800.9" cy="143.7" r="5.95"/><circle cx="790.6" cy="149.5" r="5.95"/><circle cx="735.3" cy="182.7" r="5.95"/><circle cx="797.7" cy="145.9" r="5.95"/><circle cx="764.3" cy="167.7" r="5.95"/><circle cx="643.2" cy="243.2" r="5.95"/><circle cx="809.8" cy="134.7" r="5.95"/><circle cx="618.9" cy="260.1" r="5.95"/><circle cx="626.4" cy="251.7" r="5.95"/><circle cx="657.3" cy="235.6" r="5.95"/><circle cx="691.4" cy="215.5" r="5.95"/><circle cx="790.6" cy="151.1" r="5.95"/><circle cx="749.1" cy="181.4" r="5.95"/><circle cx="806.1" cy="138.1" r="5.95"/><circle cx="718.6" cy="199.0" r="5.95"/><circle cx="732.0" cy="186.5" r="5.95"/><circle cx="738.6" cy="183.1" r="5.95"/><circle cx="757.2" cy="170.4" r="5.95"/><circle cx="620.4" cy="259.2" r="5.95"/><circle cx="833.7" cy="121.7" r="5.95"/><circle cx="701.5" cy="209.3" r="5.95"/><circle cx="761.1" cy="167.3" r="5.95"/><circle cx="674.7" cy="227.8" r="5.95"/><circle cx="634.5" cy="255.4" r="5.95"/><circle cx="796.9" cy="148.2" r="5.95"/><circle cx="648.1" cy="246.3" r="5.95"/><circle cx="626.7" cy="259.8" r="5.95"/><circle cx="703.8" cy="207.8" r="5.95"/><circle cx="806.7" cy="138.1" r="5.95"/><circle cx="666.1" cy="234.1" r="5.95"/><circle cx="734.3" cy="184.7" r="5.95"/><circle cx="619.9" cy="255.6" r="5.95"/><circle cx="625.0" cy="253.7" r="5.95"/><circle cx="773.6" cy="163.9" r="5.95"/><circle cx="697.3" cy="208.8" r="5.95"/><circle cx="623.1" cy="256.9" r="5.95"/><circle cx="729.4" cy="190.4" r="5.95"/><circle cx="826.0" cy="127.9" r="5.95"/><circle cx="662.6" cy="231.5" r="5.95"/><circle cx="622.4" cy="256.2" r="5.95"/><circle cx="642.9" cy="247.9" r="5.95"/><circle cx="769.4" cy="164.6" r="5.95"/><circle cx="829.4" cy="125.0" r="5.95"/><circle cx="835.4" cy="120.7" r="5.95"/><circle cx="802.1" cy="141.8" r="5.95"/><circle cx="664.7" cy="228.5" r="5.95"/><circle cx="734.7" cy="184.4" r="5.95"/><circle cx="745.5" cy="182.1" r="5.95"/><circle cx="629.4" cy="256.1" r="5.95"/><circle cx="780.2" cy="155.1" r="5.95"/><circle cx="724.2" cy="193.3" r="5.95"/><circle cx="704.5" cy="209.8" r="5.95"/><circle cx="625.0" cy="262.6" r="5.95"/><circle cx="773.4" cy="158.2" r="5.95"/><circle cx="660.6" cy="238.1" r="5.95"/><circle cx="822.0" cy="130.9" r="5.95"/><circle cx="834.6" cy="122.2" r="5.95"/><circle cx="622.0" cy="253.4" r="5.95"/><circle cx="717.0" cy="197.3" r="5.95"/><circle cx="722.7" cy="193.6" r="5.95"/><circle cx="793.7" cy="148.7" r="5.95"/><circle cx="673.2" cy="226.4" r="5.95"/><circle cx="654.6" cy="240.3" r="5.95"/><circle cx="758.8" cy="173.7" r="5.95"/><circle cx="750.7" cy="173.0" r="5.95"/><circle cx="709.7" cy="203.1" r="5.95"/><circle cx="820.0" cy="129.6" r="5.95"/><circle cx="804.2" cy="139.7" r="5.95"/><circle cx="685.2" cy="216.6" r="5.95"/><circle cx="713.4" cy="202.5" r="5.95"/><circle cx="717.3" cy="198.7" r="5.95"/><circle cx="647.9" cy="245.0" r="5.95"/><circle cx="659.1" cy="236.7" r="5.95"/><circle cx="751.0" cy="177.9" r="5.95"/><circle cx="744.1" cy="180.9" r="5.95"/><circle cx="667.3" cy="227.2" r="5.95"/><circle cx="710.6" cy="203.6" r="5.95"/><circle cx="743.1" cy="177.6" r="5.95"/><circle cx="742.1" cy="182.4" r="5.95"/><circle cx="713.5" cy="203.5" r="5.95"/><circle cx="671.9" cy="227.9" r="5.95"/><circle cx="811.6" cy="138.3" r="5.95"/><circle cx="705.8" cy="203.9" r="5.95"/><circle cx="783.9" cy="152.6" r="5.95"/><circle cx="777.7" cy="158.5" r="5.95"/><circle cx="650.4" cy="241.0" r="5.95"/><circle cx="623.1" cy="254.1" r="5.95"/><circle cx="757.3" cy="168.7" r="5.95"/><circle cx="683.2" cy="221.4" r="5.95"/><circle cx="753.8" cy="173.2" r="5.95"/><circle cx="788.5" cy="148.9" r="5.95"/><circle cx="668.3" cy="232.2" r="5.95"/><circle cx="814.0" cy="134.8" r="5.95"/><circle cx="619.6" cy="261.0" r="5.95"/><circle cx="627.9" cy="252.4" r="5.95"/><circle cx="820.6" cy="129.6" r="5.95"/><circle cx="776.6" cy="154.0" r="5.95"/><circle cx="703.4" cy="209.3" r="5.95"/><circle cx="791.8" cy="149.5" r="5.95"/><circle cx="679.0" cy="222.1" r="5.95"/><circle cx="643.4" cy="246.2" r="5.95"/><circle cx="833.7" cy="122.6" r="5.95"/><circle cx="641.1" cy="241.7" r="5.95"/><circle cx="766.1" cy="168.7" r="5.95"/><circle cx="679.7" cy="225.8" r="5.95"/><circle cx="710.8" cy="197.6" r="5.95"/><circle cx="683.9" cy="221.7" r="5.95"/><circle cx="771.7" cy="160.2" r="5.95"/><circle cx="650.1" cy="237.8" r="5.95"/><circle cx="652.2" cy="239.3" r="5.95"/><circle cx="699.9" cy="205.9" r="5.95"/><circle cx="834.9" cy="121.8" r="5.95"/><circle cx="626.7" cy="254.1" r="5.95"/><circle cx="759.7" cy="170.5" r="5.95"/><circle cx="801.4" cy="143.5" r="5.95"/><circle cx="641.6" cy="245.1" r="5.95"/><circle cx="675.3" cy="226.1" r="5.95"/><circle cx="657.4" cy="230.5" r="5.95"/><circle cx="769.2" cy="161.7" r="5.95"/><circle cx="668.5" cy="226.4" r="5.95"/><circle cx="654.3" cy="238.1" r="5.95"/><circle cx="784.3" cy="156.0" r="5.95"/><circle cx="783.4" cy="157.2" r="5.95"/><circle cx="826.3" cy="126.5" r="5.95"/><circle cx="799.4" cy="143.1" r="5.95"/><circle cx="672.5" cy="227.2" r="5.95"/><circle cx="830.2" cy="123.6" r="5.95"/><circle cx="811.7" cy="135.8" r="5.95"/><circle cx="826.4" cy="125.8" r="5.95"/><circle cx="819.0" cy="130.8" r="5.95"/><circle cx="685.9" cy="222.9" r="5.95"/><circle cx="675.1" cy="222.3" r="5.95"/><circle cx="659.4" cy="231.8" r="5.95"/><circle cx="727.0" cy="189.5" r="5.95"/><circle cx="670.4" cy="228.4" r="5.95"/><circle cx="798.7" cy="145.7" r="5.95"/><circle cx="757.3" cy="173.2" r="5.95"/><circle cx="717.6" cy="195.7" r="5.95"/><circle cx="691.4" cy="216.3" r="5.95"/><circle cx="799.0" cy="145.2" r="5.95"/><circle cx="803.1" cy="144.3" r="5.95"/><circle cx="742.1" cy="179.6" r="5.95"/><circle cx="830.8" cy="123.6" r="5.95"/><circle cx="786.1" cy="154.2" r="5.95"/><circle cx="714.7" cy="201.9" r="5.95"/><circle cx="718.2" cy="195.6" r="5.95"/><circle cx="654.7" cy="235.3" r="5.95"/><circle cx="626.7" cy="253.9" r="5.95"/><circle cx="778.3" cy="160.3" r="5.95"/><circle cx="738.1" cy="185.2" r="5.95"/><circle cx="759.5" cy="168.5" r="5.95"/><circle cx="714.6" cy="196.3" r="5.95"/><circle cx="627.1" cy="254.8" r="5.95"/><circle cx="832.6" cy="123.5" r="5.95"/><circle cx="804.8" cy="138.8" r="5.95"/><circle cx="743.6" cy="181.0" r="5.95"/><circle cx="809.8" cy="136.6" r="5.95"/><circle cx="629.9" cy="258.8" r="5.95"/><circle cx="803.5" cy="142.2" r="5.95"/><circle cx="749.6" cy="179.4" r="5.95"/><circle cx="780.2" cy="157.7" r="5.95"/><circle cx="764.6" cy="163.6" r="5.95"/><circle cx="780.5" cy="157.3" r="5.95"/><circle cx="746.5" cy="179.2" r="5.95"/><circle cx="734.1" cy="188.7" r="5.95"/><circle cx="647.7" cy="243.9" r="5.95"/><circle cx="718.4" cy="197.7" r="5.95"/><circle cx="668.2" cy="226.7" r="5.95"/><circle cx="754.9" cy="175.9" r="5.95"/><circle cx="702.2" cy="211.4" r="5.95"/><circle cx="814.0" cy="133.8" r="5.95"/><circle cx="726.8" cy="191.8" r="5.95"/><circle cx="735.1" cy="184.0" r="5.95"/><circle cx="710.2" cy="199.4" r="5.95"/><circle cx="675.2" cy="224.2" r="5.95"/><circle cx="682.1" cy="216.3" r="5.95"/><circle cx="665.3" cy="234.7" r="5.95"/><circle cx="700.3" cy="212.4" r="5.95"/><circle cx="627.4" cy="259.7" r="5.95"/><circle cx="756.3" cy="170.8" r="5.95"/><circle cx="709.1" cy="200.4" r="5.95"/><circle cx="640.8" cy="250.9" r="5.95"/><circle cx="823.9" cy="128.3" r="5.95"/><circle cx="705.1" cy="207.8" r="5.95"/><circle cx="704.3" cy="203.6" r="5.95"/><circle cx="809.4" cy="137.7" r="5.95"/><circle cx="694.1" cy="210.7" r="5.95"/><circle cx="690.7" cy="218.8" r="5.95"/><circle cx="752.6" cy="173.2" r="5.95"/><circle cx="644.8" cy="249.1" r="5.95"/><circle cx="787.4" cy="153.5" r="5.95"/><circle cx="740.2" cy="184.8" r="5.95"/><circle cx="768.0" cy="165.3" r="5.95"/><circle cx="823.1" cy="128.9" r="5.95"/><circle cx="809.6" cy="138.9" r="5.95"/><circle cx="639.6" cy="251.8" r="5.95"/><circle cx="783.4" cy="156.4" r="5.95"/><circle cx="756.4" cy="175.4" r="5.95"/><circle cx="643.6" cy="244.6" r="5.95"/><circle cx="653.9" cy="235.8" r="5.95"/><circle cx="726.6" cy="192.5" r="5.95"/><circle cx="669.4" cy="229.5" r="5.95"/><circle cx="770.0" cy="166.5" r="5.95"/><circle cx="620.6" cy="258.1" r="5.95"/><circle cx="792.6" cy="148.0" r="5.95"/><circle cx="622.2" cy="259.4" r="5.95"/><circle cx="655.4" cy="240.7" r="5.95"/><circle cx="742.3" cy="180.8" r="5.95"/><circle cx="675.5" cy="225.5" r="5.95"/><circle cx="729.8" cy="190.1" r="5.95"/><circle cx="796.5" cy="146.7" r="5.95"/><circle cx="625.7" cy="256.8" r="5.95"/><circle cx="746.5" cy="180.1" r="5.95"/><circle cx="725.9" cy="193.1" r="5.95"/><circle cx="659.5" cy="235.5" r="5.95"/><circle cx="795.3" cy="147.6" r="5.95"/><circle cx="790.7" cy="154.1" r="5.95"/><circle cx="768.7" cy="167.1" r="5.95"/><circle cx="810.6" cy="138.6" r="5.95"/><circle cx="641.0" cy="247.8" r="5.95"/><circle cx="722.9" cy="190.3" r="5.95"/><circle cx="693.2" cy="212.9" r="5.95"/><circle cx="621.1" cy="259.6" r="5.95"/><circle cx="623.0" cy="257.5" r="5.95"/><circle cx="778.5" cy="156.1" r="5.95"/><circle cx="782.0" cy="156.0" r="5.95"/><circle cx="814.9" cy="134.4" r="5.95"/><circle cx="663.5" cy="233.6" r="5.95"/><circle cx="732.7" cy="190.1" r="5.95"/><circle cx="621.5" cy="262.0" r="5.95"/><circle cx="821.5" cy="129.2" r="5.95"/><circle cx="657.6" cy="238.8" r="5.95"/><circle cx="825.2" cy="128.4" r="5.95"/><circle cx="794.5" cy="149.0" r="5.95"/><circle cx="619.1" cy="249.4" r="5.95"/><circle cx="638.0" cy="244.9" r="5.95"/><circle cx="793.5" cy="144.0" r="5.95"/><circle cx="803.7" cy="143.5" r="5.95"/><circle cx="770.2" cy="160.5" r="5.95"/><circle cx="668.5" cy="235.2" r="5.95"/><circle cx="740.0" cy="182.7" r="5.95"/><circle cx="731.7" cy="182.4" r="5.95"/><circle cx="829.8" cy="124.7" r="5.95"/><circle cx="770.5" cy="165.4" r="5.95"/><circle cx="719.8" cy="195.4" r="5.95"/><circle cx="694.3" cy="215.5" r="5.95"/><circle cx="642.7" cy="248.6" r="5.95"/><circle cx="783.9" cy="154.5" r="5.95"/><circle cx="731.6" cy="191.2" r="5.95"/><circle cx="712.9" cy="199.9" r="5.95"/><circle cx="823.9" cy="129.2" r="5.95"/><circle cx="706.4" cy="200.9" r="5.95"/><circle cx="786.0" cy="150.5" r="5.95"/><circle cx="625.9" cy="254.7" r="5.95"/><circle cx="777.2" cy="156.8" r="5.95"/><circle cx="749.9" cy="173.7" r="5.95"/><circle cx="679.6" cy="219.4" r="5.95"/><circle cx="801.5" cy="145.4" r="5.95"/><circle cx="720.3" cy="193.5" r="5.95"/><circle cx="725.5" cy="189.1" r="5.95"/><circle cx="746.4" cy="175.5" r="5.95"/><circle cx="824.9" cy="128.9" r="5.95"/><circle cx="619.3" cy="259.3" r="5.95"/><circle cx="688.2" cy="217.6" r="5.95"/><circle cx="813.3" cy="135.5" r="5.95"/><circle cx="699.2" cy="212.7" r="5.95"/><circle cx="779.5" cy="153.1" r="5.95"/><circle cx="772.2" cy="162.7" r="5.95"/><circle cx="629.2" cy="251.2" r="5.95"/><circle cx="678.6" cy="220.6" r="5.95"/><circle cx="816.9" cy="132.1" r="5.95"/><circle cx="673.7" cy="224.6" r="5.95"/><circle cx="694.5" cy="214.0" r="5.95"/><circle cx="627.6" cy="251.5" r="5.95"/><circle cx="731.2" cy="188.9" r="5.95"/><circle cx="799.8" cy="144.7" r="5.95"/><circle cx="763.7" cy="169.4" r="5.95"/><circle cx="755.4" cy="173.0" r="5.95"/><circle cx="744.9" cy="179.5" r="5.95"/><circle cx="708.3" cy="205.8" r="5.95"/><circle cx="663.1" cy="235.7" r="5.95"/><circle cx="676.2" cy="224.9" r="5.95"/><circle cx="660.8" cy="230.5" r="5.95"/><circle cx="821.7" cy="128.6" r="5.95"/><circle cx="742.9" cy="182.6" r="5.95"/><circle cx="657.4" cy="236.7" r="5.95"/><circle cx="637.2" cy="253.4" r="5.95"/><circle cx="634.7" cy="250.4" r="5.95"/><circle cx="622.1" cy="249.0" r="5.95"/><circle cx="707.2" cy="205.0" r="5.95"/><circle cx="706.1" cy="201.4" r="5.95"/><circle cx="726.0" cy="194.2" r="5.95"/><circle cx="622.0" cy="249.8" r="5.95"/><circle cx="781.6" cy="152.8" r="5.95"/><circle cx="618.8" cy="263.4" r="5.95"/><circle cx="704.3" cy="204.6" r="5.95"/><circle cx="774.7" cy="161.1" r="5.95"/><circle cx="650.3" cy="245.3" r="5.95"/><circle cx="641.0" cy="248.6" r="5.95"/><circle cx="650.1" cy="243.2" r="5.95"/><circle cx="638.8" cy="248.8" r="5.95"/><circle cx="679.0" cy="223.9" r="5.95"/><circle cx="639.7" cy="251.0" r="5.95"/><circle cx="632.3" cy="249.4" r="5.95"/><circle cx="631.1" cy="249.4" r="5.95"/><circle cx="679.7" cy="221.3" r="5.95"/><circle cx="767.0" cy="166.3" r="5.95"/><circle cx="688.7" cy="217.6" r="5.95"/><circle cx="666.1" cy="232.4" r="5.95"/><circle cx="668.4" cy="231.5" r="5.95"/><circle cx="626.7" cy="252.4" r="5.95"/><circle cx="632.4" cy="247.8" r="5.95"/><circle cx="680.0" cy="219.3" r="5.95"/><circle cx="694.2" cy="217.1" r="5.95"/><circle cx="651.6" cy="236.7" r="5.95"/><circle cx="786.6" cy="154.0" r="5.95"/><circle cx="710.5" cy="201.6" r="5.95"/><circle cx="750.1" cy="174.8" r="5.95"/><circle cx="718.9" cy="195.0" r="5.95"/><circle cx="806.0" cy="141.5" r="5.95"/><circle cx="633.5" cy="254.8" r="5.95"/><circle cx="623.4" cy="259.3" r="5.95"/><circle cx="620.1" cy="258.6" r="5.95"/><circle cx="820.2" cy="130.8" r="5.95"/><circle cx="818.4" cy="130.8" r="5.95"/><circle cx="846.7" cy="113.7" r="5.95"/></g>
</g>
<circle cx="846.7" cy="113.7" r="5.7" fill="#1f77b4" stroke="#1a619a" stroke-width="1.1"/>
<circle cx="846.7" cy="113.7" r="4.0" fill="none" stroke="#6fb0de" stroke-width="0.9"/>
<rect x="608.3" y="106.4" width="249.70000000000005" height="165.29999999999998" fill="none" stroke="#000" stroke-width="1.4"/>
<path d="M648.4 271.7 v5.6 M755.3 271.7 v5.6 M608.3 173.1 h-5.6 M608.3 239.8 h-5.6" stroke="#000" stroke-width="1.4" fill="none"/>
<rect x="283.2" y="32.5" width="237.2" height="30.4" rx="3" ry="3" fill="#fff" fill-opacity="0.8" stroke="#d2d2d2" stroke-width="1.4"/>
<circle cx="307.75" cy="47.6" r="6.0" fill="#1f77b4" stroke="#1a619a" stroke-width="1.1"/>
<circle cx="307.75" cy="47.6" r="4.2" fill="none" stroke="#6fb0de" stroke-width="0.9" stroke-dasharray="2.2 1.2"/>
<g font-family="'DejaVu Sans', 'Liberation Sans', sans-serif" font-size="17.5" fill="#000" stroke="#000" stroke-width="0.3">
<text x="339.5" y="53.2">Correlation r=.9998</text>
<text x="294.6" y="325.2" text-anchor="middle">0.5</text>
<text x="262.2" y="293.2" text-anchor="end">0.5</text>
<text x="371.6" y="325.2" text-anchor="middle">0.6</text>
<text x="262.2" y="242.1" text-anchor="end">0.6</text>
<text x="448.5" y="325.2" text-anchor="middle">0.7</text>
<text x="262.2" y="190.9" text-anchor="end">0.7</text>
<text x="525.5" y="325.2" text-anchor="middle">0.8</text>
<text x="262.2" y="139.8" text-anchor="end">0.8</text>
<text x="602.4" y="325.2" text-anchor="middle">0.9</text>
<text x="262.2" y="88.6" text-anchor="end">0.9</text>
<text x="679.4" y="325.2" text-anchor="middle">1.0</text>
<text x="262.2" y="37.5" text-anchor="end">1.0</text>
<text x="482.7" y="348.9" text-anchor="middle">Privacy score under first half</text>
<text transform="translate(224.3 161.3) rotate(-90)" text-anchor="middle">Privacy score under second half</text>
</g>
</svg>
<svg width="1080" height="438" viewBox="0 0 1080 438" style="position:absolute;left:0;top:0"><g font-family="'Liberation Serif', 'DejaVu Serif', serif" font-size="25.5" fill="#000" stroke="#000" stroke-width="0.18"><text transform="translate(13.29 395.5) scale(1.0555 1)">Figure</text> <text transform="translate(91.13 395.5) scale(1.0350 1)">2:</text> <text transform="translate(122.72 395.5) scale(1.0392 1)">The</text> <text transform="translate(171.44 395.5) scale(1.0345 1)">Onion</text> <text transform="translate(246.71 395.5) scale(1.0277 1)">Effect</text> <text transform="translate(319.73 395.5) scale(1.0350 1)">is</text> <text transform="translate(344.86 395.5) scale(1.0080 1)">not</text> <text transform="translate(385.35 395.5) scale(1.0125 1)">due</text> <text transform="translate(431.23 395.5) scale(1.0350 1)">to</text> <text transform="translate(460.20 395.5) scale(1.0278 1)">statistical</text> <text transform="translate(569.33 395.5) scale(1.0495 1)">noise.</text> <text transform="translate(642.67 395.5) scale(1.0553 1)">Our</text> <text transform="translate(693.37 395.5) scale(0.9968 1)">privacy</text> <text transform="translate(778.96 395.5) scale(1.0528 1)">metric</text> <text transform="translate(855.86 395.5) scale(1.0350 1)">is</text> <text transform="translate(880.67 395.5) scale(1.0541 1)">stable</text> <text transform="translate(951.07 395.5) scale(1.0369 1)">across</text> <text transform="translate(1026.03 395.5) scale(1.0467 1)">two</text>
<text transform="translate(14.17 424.4) scale(1.0474 1)">independent</text> <text transform="translate(150.24 424.4) scale(1.0097 1)">runs</text> <text transform="translate(202.12 424.4) scale(0.9874 1)">and</text> <text transform="translate(247.25 424.4) scale(0.9880 1)">has</text> <text transform="translate(287.89 424.4) scale(1.0350 1)">an</text> <text transform="translate(320.33 424.4) scale(1.0271 1)">almost</text> <text transform="translate(398.37 424.4) scale(0.9893 1)">perfect</text> <text transform="translate(476.45 424.4) scale(1.0320 1)">correlation</text> <text transform="translate(598.70 424.4) scale(1.0487 1)">(.9998).</text></g></svg>
</body></html>
